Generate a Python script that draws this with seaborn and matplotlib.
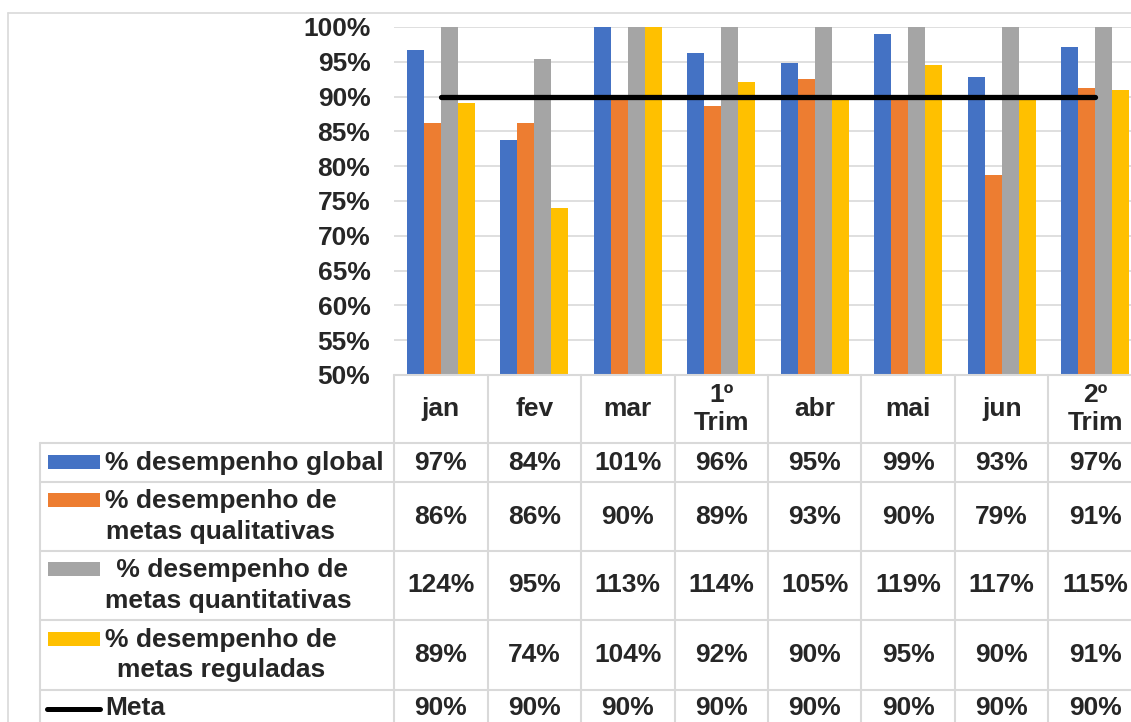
import numpy as np
import pandas as pd
import matplotlib.pyplot as plt
import matplotlib.transforms as mtransforms
from matplotlib.lines import Line2D
from matplotlib.patches import Rectangle
import seaborn as sns

sns.set_style('white')
plt.rcParams['font.family'] = ['Liberation Sans', 'DejaVu Sans']
plt.rcParams['font.weight'] = 'bold'

W, H = 1131, 722
GRID = '#D9D9D9'

categories = ['jan', 'fev', 'mar', '1º\nTrim', 'abr', 'mai', 'jun', '2º\nTrim']
series = [
    '% desempenho global',
    '% desempenho de\nmetas qualitativas',
    ' % desempenho de\nmetas quantitativas',
    '% desempenho de\nmetas reguladas',
]
colors = ['#4472C4', '#ED7D31', '#A5A5A5', '#FFC000']

# percentages (the table shows them rounded)
global_pct = [96.7, 83.8, 101.0, 96.3, 94.8, 99.0, 92.8, 97.1]
qualit_pct = [86.2, 86.2, 90.0, 88.6, 92.6, 90.0, 78.7, 91.2]
quantit_pct = [124.0, 95.4, 113.0, 114.0, 105.0, 119.0, 117.0, 115.0]
regul_pct = [89.1, 74.0, 104.0, 92.1, 90.0, 94.6, 90.0, 90.9]
meta_pct = [90, 90, 90, 90, 90, 90, 90, 90]

values = [global_pct, qualit_pct, quantit_pct, regul_pct]

df = pd.DataFrame({
    'cat': np.tile(categories, len(series)),
    'serie': np.repeat(series, len(categories)),
    'val': np.concatenate([np.array(v) / 100 for v in values]),
})


def fx(x):
    return x / W


def fy(y):
    return 1 - y / H


fig = plt.figure(figsize=(W / 100, H / 100), dpi=100)
ax = fig.add_axes([fx(394), fy(375), 748 / W, (375 - 27) / H])

sns.barplot(data=df, x='cat', y='val', hue='serie', order=categories,
            hue_order=series, palette=colors, saturation=1, width=0.73, gap=0,
            linewidth=0, legend=False, ax=ax)
sns.lineplot(x=np.arange(len(categories)), y=np.array(meta_pct) / 100,
             color='black', linewidth=3.8, solid_capstyle='round', ax=ax)

ax.set_xlim(-0.5, len(categories) - 0.5)
ax.set_ylim(0.5, 1.0)
ticks = np.arange(0.5, 1.001, 0.05)
ax.set_yticks(ticks)
ax.set_yticklabels([f'{int(round(t * 100))}%' for t in ticks],
                   fontsize=19, fontweight='bold')
ax.tick_params(axis='y', length=0, pad=17)
ax.set_xticks([])
ax.set_xlabel('')
ax.set_ylabel('')
ax.grid(axis='y', color=GRID, linewidth=1.2)
ax.set_axisbelow(True)
for spine in ax.spines.values():
    spine.set_visible(False)

# chart border
fig.add_artist(Line2D([fx(8), fx(8)], [fy(13), 0], color=GRID, lw=1.2))
fig.add_artist(Line2D([fx(8), 1], [fy(13), fy(13)], color=GRID, lw=1.2))

# data table
blend = mtransforms.blended_transform_factory(ax.transData, fig.transFigure)
n = len(categories)
fig.add_artist(Line2D([-0.5, n + 0.5], [fy(375), fy(375)], transform=blend,
                      color=GRID, lw=1.5))
for yb in [443, 482, 551, 620, 690]:
    fig.add_artist(Line2D([fx(40), 1.02], [fy(yb), fy(yb)], color=GRID, lw=1.5))
fig.add_artist(Line2D([fx(40), fx(40)], [fy(443), -0.02], color=GRID, lw=1.5))
for i in range(n + 1):
    fig.add_artist(Line2D([i - 0.5, i - 0.5], [fy(375), -0.02], transform=blend,
                          color=GRID, lw=1.5))

for i, c in enumerate(categories):
    fig.text(i, fy(409), c, transform=blend, ha='center', va='center',
             fontsize=19, fontweight='bold', linespacing=1.2)

row_centers = [462.5, 516.5, 585.5, 655, 708]
patch_y = [462, 500, 569, 639]
for r, (name, col, vals) in enumerate(zip(series, colors, values)):
    yc = row_centers[r]
    fig.add_artist(Rectangle((fx(48), fy(patch_y[r] + 7)), fx(52), 14 / H,
                             color=col, lw=0))
    fig.text(fx(105), fy(yc), name, ha='left', va='center', multialignment='center',
             fontsize=19, fontweight='bold', linespacing=1.35)
    for i, v in enumerate(vals):
        fig.text(i, fy(yc), f'{round(v)}%', transform=blend, ha='center',
                 va='center', fontsize=19, fontweight='bold')

fig.add_artist(Line2D([fx(47), fx(100)], [fy(709), fy(709)], color='black',
                      lw=3.6, solid_capstyle='round'))
fig.text(fx(105), fy(708), 'Meta', ha='left', va='center', fontsize=19,
         fontweight='bold')
for i, v in enumerate(meta_pct):
    fig.text(i, fy(708), f'{v}%', transform=blend, ha='center', va='center',
             fontsize=19, fontweight='bold')

fig.savefig('out.png', dpi=100, facecolor='white')
